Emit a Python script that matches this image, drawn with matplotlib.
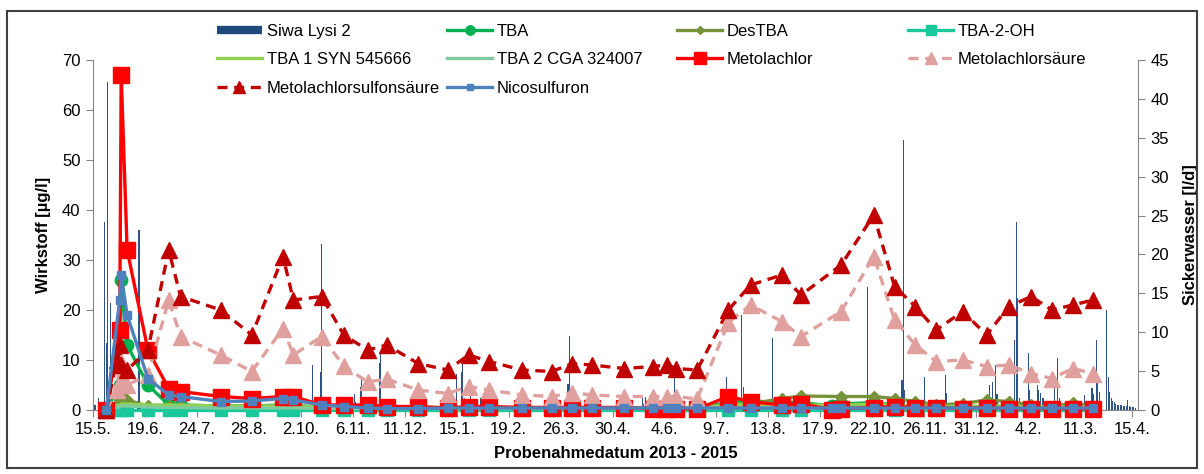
#!/usr/bin/env python3
"""Lysimeter 2: Wirkstoffe (left axis) and daily Sickerwasser bars (right axis)."""

import datetime as dt
import numpy as np
import matplotlib
matplotlib.use("Agg")
import matplotlib.pyplot as plt
from matplotlib.lines import Line2D
from matplotlib.patches import Rectangle

plt.rcParams["font.family"] = ["Liberation Sans", "DejaVu Sans"]

N = np.nan

# sampling dates (common to all substances)
sample_dates = [
    "2013-05-24", "2013-05-31", "2013-06-02", "2013-06-03", "2013-06-07", "2013-06-21",
    "2013-07-05", "2013-07-13", "2013-08-09", "2013-08-30", "2013-09-20", "2013-09-27",
    "2013-10-16", "2013-10-31", "2013-11-16", "2013-11-29", "2013-12-20",
    "2014-01-09", "2014-01-23", "2014-02-06", "2014-02-28", "2014-03-20", "2014-04-03",
    "2014-04-16", "2014-05-08", "2014-05-27", "2014-06-06", "2014-06-12", "2014-06-26",
    "2014-07-17", "2014-08-01", "2014-08-22", "2014-09-04", "2014-09-25", "2014-10-01",
    "2014-10-23", "2014-11-06", "2014-11-20", "2014-12-04", "2014-12-22",
    "2015-01-07", "2015-01-22", "2015-02-06", "2015-02-20", "2015-03-06", "2015-03-20",
]

tba = [0, N, 5, 26, 13, 5, 1, 1, 0.8, 0.8, 1, 1, 0.5, 0.5, 0.3, 0.3, 0.3,
       0.3, 0.3, 0.3, 0.3, 0.3, 0.3, 0.3, 0.3, 0.3, 0.3, 0.3, 0.3,
       1.5, 1.8, 1.5, 1.5, 0.8, 1.2, 1.5, 1, 0.5, 0.3, 0.3,
       0.3, 0.3, 0.3, 0.3, 0.3, 0.3]
destba = [0, N, 2, 3, 2, 0.8, 0.8, 0.7, 0.7, 0.7, 0.8, 0.8, 0.5, 0.5, 0.5, 0.3, 0.3,
          0.3, 0.3, 0.3, 0.3, 0.3, 0.3, 0.3, 0.3, 0.3, 0.3, 0.3, 0.3,
          1, 1.2, 2.3, 2.8, N, 2.7, 2.7, 2.3, 1.7, 1, 1.3,
          2, 1.7, 1, 0.5, 1.5, 0.7]
tba_2_oh = [0, N, 0, 0, 0, 0, 0, 0, 0, 0, 0, 0, 0, 0, 0, 0, 0,
            0, 0, 0, 0, 0, 0, 0, 0, 0, 0, 0, 0,
            0, 0, 0, 0, 0, 0, 0, 0, 0, 0, 0,
            0, 0, 0, 0, 0, 0]
tba1_syn = [0.5, N, 1, 1.2, 1.2, 1, 1, 1, 0.8, 0.8, 0.8, 0.8, 0.6, 0.6, 0.5, 0.5, 0.5,
            0.5, 0.5, 0.5, 0.5, 0.5, 0.5, 0.5, 0.5, 0.5, 0.5, 0.5, 0.5,
            1, 1.2, 1, 1, N, 1, 1.2, 1, 0.8, 0.6, 0.8,
            0.8, 0.8, 0.6, 0.6, 0.6, 0.6]
tba2_cga = [0.3, N, 0.6, 0.8, 0.8, 0.6, 0.5, 0.5, 0.4, 0.4, 0.4, 0.4, 0.3, 0.3, 0.3, 0.3, 0.3,
            0.3, 0.3, 0.3, 0.3, 0.3, 0.3, 0.3, 0.3, 0.3, 0.3, 0.3, 0.3,
            0.5, 0.5, 0.4, 0.4, N, 0.4, 0.5, 0.4, 0.3, 0.3, 0.3,
            0.3, 0.3, 0.3, 0.3, 0.3, 0.3]
metolachlor = [0, N, 16, 67, 32, 12, 4.3, 3.7, 2.7, 2.3, 2.7, 2.7, 1, 1, 1, 0.7, 0.7,
               0.4, 0.7, 0.7, 0.5, 0.5, 0.5, 0.5, 0.5, 0.3, 0.3, 0.3, 0.2,
               2.7, 1.7, 1, 1.3, 0, 0.3, 0.5, 0.7, 0.5, 0.5, 0.3,
               0.5, 0.3, 0.3, 0.3, 0.3, 0.3]
metolachlor_esa_acid = [0, 4, 10, 6, 5, 7, 22, 14.7, 11, 7.7, 16.3, 11, 14.7, 8.8, 5.6, 6.2, 4,
                        3.3, 4.7, 4, 3, 2.7, 3.5, 3, 2.7, 2.7, 2.7, 2.7, 2.2,
                        17.5, 21, 17.7, 14.7, N, 19.7, 30.7, 18, 13, 9.7, 10,
                        8.7, 9, 7.3, 6.3, 8.3, 7.3]
metolachlor_sulfon = [0, 10, 13, 9, 8, 12, 32, 22.7, 20, 15, 30.7, 22, 22.7, 15, 12, 13, 9.3,
                      8, 11, 9.7, 8, 7.7, 9.3, 9, 8.3, 8.7, 9, 8.3, 8,
                      20, 25, 27, 23, N, 29, 39, 24.7, 20.7, 16, 19.7,
                      15, 20.7, 22.7, 20, 21, 22]
nicosulfuron = [0, N, 22, 27, 19, 6.3, 3, 2.7, 1.7, 1.8, 2.3, 2, 1, 0.7, 0.4, 0.3, 0.3,
                0.4, 0.4, 0.4, 0.4, 0.4, 0.4, 0.4, 0.4, 0.4, 0.4, 0.4, 0.4,
                0.4, 0.4, 0.4, 0.4, 0.4, 0.4, 0.4, 0.4, 0.4, 0.4, 0.4,
                0.4, 0.4, 0.4, 0.4, 0.4, 0.4]

# daily seepage water Siwa Lysi 2 [l/d]
siwa_dates = [
    "2013-05-16", "2013-05-17", "2013-05-19", "2013-05-20", "2013-05-22", "2013-05-23",
    "2013-05-24", "2013-05-25", "2013-05-26", "2013-05-27", "2013-05-28", "2013-06-14",
    "2013-06-15", "2013-06-16",
    "2013-10-10", "2013-10-15", "2013-10-16", "2013-10-17", "2013-11-07", "2013-11-08",
    "2013-11-11", "2013-11-12", "2013-11-13", "2013-11-24", "2013-11-25", "2013-11-26",
    "2014-01-15", "2014-01-18", "2014-01-19", "2014-01-20", "2014-01-24", "2014-01-25",
    "2014-01-28", "2014-01-31", "2014-02-02", "2014-02-03", "2014-02-04",
    "2014-03-31", "2014-04-01", "2014-04-02", "2014-05-20", "2014-05-21", "2014-05-22",
    "2014-05-23", "2014-06-11", "2014-06-12", "2014-07-16", "2014-07-17", "2014-07-26",
    "2014-07-27", "2014-07-28", "2014-07-29", "2014-08-16", "2014-08-17",
    "2014-10-19", "2014-10-20", "2014-11-11", "2014-11-12", "2014-11-13", "2014-11-14",
    "2014-11-26", "2014-11-27", "2014-12-10", "2014-12-11", "2014-12-12",
    "2015-01-08", "2015-01-09", "2015-01-11", "2015-01-13", "2015-01-14", "2015-01-15",
    "2015-01-26", "2015-01-27", "2015-01-28", "2015-01-29", "2015-02-04", "2015-02-05",
    "2015-02-10", "2015-02-11", "2015-02-12", "2015-02-14", "2015-02-15", "2015-02-22",
    "2015-02-24", "2015-02-25", "2015-02-26", "2015-03-14", "2015-03-19", "2015-03-20",
    "2015-03-22", "2015-03-23", "2015-03-24", "2015-03-25", "2015-03-29", "2015-03-30",
    "2015-03-31", "2015-04-01", "2015-04-02", "2015-04-03", "2015-04-04", "2015-04-05",
    "2015-04-06", "2015-04-07", "2015-04-08", "2015-04-09", "2015-04-10", "2015-04-11",
    "2015-04-12", "2015-04-13", "2015-04-14", "2015-04-15", "2015-04-16", "2015-04-17",
]
siwa_values = [
    0.7, 0.7, 1.5, 0.5, 1.0, 24.2,
    8.6, 42.2, 2.0, 13.7, 1.0, 1.2,
    23.1, 0.8,
    5.8, 4.9, 21.4, 1.0, 2.0, 1.0,
    3.0, 3.9, 1.0, 6.0, 7.5, 1.0,
    4.6, 4.9, 6.0, 1.5, 3.9, 1.0,
    0.8, 1.5, 2.2, 2.0, 0.7,
    3.4, 9.5, 1.0, 1.5, 0.8, 1.7,
    0.6, 4.5, 0.6, 4.3, 0.8, 12.2,
    3.0, 2.0, 0.8, 9.3, 0.6,
    15.8, 0.7, 3.9, 34.7, 2.6, 0.8,
    4.3, 1.2, 4.5, 2.2, 0.7,
    1.5, 3.2, 3.6, 5.8, 2.0, 0.8,
    9.0, 24.2, 14.4, 1.5, 7.3, 2.6,
    3.2, 2.6, 2.2, 1.5, 0.8, 3.9,
    6.7, 1.5, 0.6, 1.9, 2.8, 2.0,
    9.0, 3.8, 2.3, 1.0, 12.9, 4.2,
    2.3, 1.5, 1.2, 1.0, 0.8, 0.7,
    0.7, 0.6, 0.6, 0.5, 0.5, 0.5,
    1.3, 0.5, 0.4, 0.4, 0.4, 0.3,
]

FIG_W, FIG_H = 1204, 474
GRAY = "#868686"


def to_dates(strings):
    return np.array(strings, dtype="datetime64[D]").astype("O")


def plot_series(ax, dates, values, **kw):
    v = np.asarray(values, dtype=float)
    keep = ~np.isnan(v)
    d = np.array(dates, dtype=object)[keep]
    return ax.plot(d, v[keep], clip_on=False, **kw)[0]


def main():
    fig = plt.figure(figsize=(FIG_W / 100, FIG_H / 100), dpi=100)
    left, right, top, bottom = 93, 1138, 60, 410
    ax2 = fig.add_axes([left / FIG_W, 1 - bottom / FIG_H,
                        (right - left) / FIG_W, (bottom - top) / FIG_H])
    ax = ax2.twinx()
    ax.yaxis.tick_left()
    ax.yaxis.set_label_position("left")
    ax2.yaxis.tick_right()
    ax2.yaxis.set_label_position("right")
    ax.set_zorder(ax2.get_zorder() + 1)
    ax.patch.set_visible(False)

    sd = to_dates(sample_dates)

    # seepage water bars (right axis)
    ax2.bar(to_dates(siwa_dates), siwa_values, width=0.7, color="#2F5386",
            linewidth=0, zorder=1)

    lw = 2.4
    h_tba = plot_series(ax, sd, tba, color="#00B050", lw=lw, marker="o", ms=9,
                        mec="#00B050")
    h_des = plot_series(ax, sd, destba, color="#77933C", lw=lw, marker="D", ms=6,
                        mec="#77933C")
    h_oh = plot_series(ax, sd, tba_2_oh, color="#1BC89B", lw=lw, marker="s", ms=9,
                       mec="#1BC89B")
    h_t1 = plot_series(ax, sd, tba1_syn, color="#92D050", lw=lw)
    h_t2 = plot_series(ax, sd, tba2_cga, color="#7FCB9F", lw=lw)
    h_met = plot_series(ax, sd, metolachlor, color="#FF0000", lw=lw, marker="s",
                        ms=11, mec="#FF0000")
    h_esa = plot_series(ax, sd, metolachlor_esa_acid, color="#E0A09E", lw=lw,
                        ls=(0, (3, 2)), marker="^", ms=11, mec="#E0A09E")
    h_sul = plot_series(ax, sd, metolachlor_sulfon, color="#C00000", lw=lw,
                        ls=(0, (3, 2)), marker="^", ms=11, mec="#C00000")
    h_nic = plot_series(ax, sd, nicosulfuron, color="#4F81BD", lw=lw, marker="s",
                        ms=6, mec="#4F81BD")

    # axes
    ax.set_ylim(0, 70)
    ax.set_yticks(range(0, 71, 10))
    ax2.set_ylim(0, 45)
    ax2.set_yticks(range(0, 46, 5))
    ax2.set_xlim(dt.date(2013, 5, 15), dt.date(2015, 4, 19))
    ticks = [dt.date(2013, 5, 15) + dt.timedelta(days=35 * k) for k in range(21)]
    ax2.set_xticks(ticks)
    ax2.set_xticklabels([f"{t.day}.{t.month}." for t in ticks])

    for a in (ax, ax2):
        a.spines["top"].set_visible(False)
        for s in a.spines.values():
            s.set_color(GRAY)
        a.tick_params(direction="out", length=5, color=GRAY, labelsize=12,
                      labelcolor="black", pad=4)
    ax.spines["right"].set_visible(False)
    ax.spines["bottom"].set_visible(False)
    ax2.spines["left"].set_visible(False)
    ax.tick_params(axis="x", bottom=False, labelbottom=False)

    ax.set_ylabel("Wirkstoff [µg/l]", fontsize=12, fontweight="bold")
    ax.yaxis.set_label_coords((51 - left) / (right - left), 0.5)
    ax2.set_ylabel("Sickerwasser [l/d]", fontsize=12, fontweight="bold")
    ax2.yaxis.set_label_coords((1183 - left) / (right - left), 0.5)
    ax2.set_xlabel("Probenahmedatum 2013 - 2015", fontsize=12, fontweight="bold")
    ax2.xaxis.set_label_coords(0.5, (bottom - 446) / (bottom - top))
    ax2.xaxis.label.set_verticalalignment("top")

    # legend, four equal-width columns like the original
    h_siwa = Line2D([], [], color="#1F497D", lw=6, solid_capstyle="butt")
    columns = [
        ([h_siwa, h_t1, h_sul], ["Siwa Lysi 2", "TBA 1 SYN 545666", "Metolachlorsulfonsäure"]),
        ([h_tba, h_t2, h_nic], ["TBA", "TBA 2 CGA 324007", "Nicosulfuron"]),
        ([h_des, h_met], ["DesTBA", "Metolachlor"]),
        ([h_oh, h_esa], ["TBA-2-OH", "Metolachlorsäure"]),
    ]
    col_x = [217, 447, 677, 908]
    for x, (handles, labels) in zip(col_x, columns):
        fig.legend(handles, labels, loc="upper left",
                   bbox_to_anchor=(x / FIG_W, 1 - 24 / FIG_H),
                   frameon=False, fontsize=12, handlelength=2.7,
                   handletextpad=0.3, labelspacing=0.8, borderpad=0,
                   borderaxespad=0, markerscale=0.75)

    # outer chart border
    fig.patches.append(Rectangle((7 / FIG_W, 1 - 468 / FIG_H), 1190 / FIG_W, 457 / FIG_H,
                                 transform=fig.transFigure, fill=False,
                                 edgecolor="#404040", lw=1.5))

    fig.savefig("out.png", dpi=100)


if __name__ == "__main__":
    main()
